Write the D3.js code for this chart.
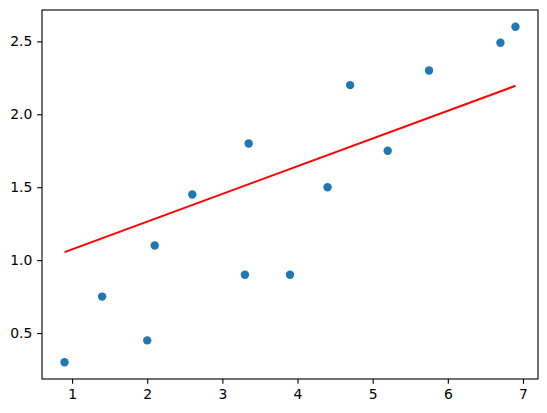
<!DOCTYPE html>
<html>
<head>
<meta charset="utf-8">
<script src="https://cdn.jsdelivr.net/npm/d3@7"></script>
<style>
  html, body { margin: 0; padding: 0; background: #fff; }
  svg { display: block; }
  .tick text { font-family: "DejaVu Sans", sans-serif; font-size: 13.9px; fill: #000; }
</style>
</head>
<body>
<svg id="chart" width="547" height="413"></svg>
<script>
const xValues = [0.9, 1.4, 2.0, 2.1, 2.6, 3.3, 3.35, 3.9, 4.4, 4.7, 5.2, 5.75, 6.7, 6.9];
const yValues = [0.3, 0.75, 0.45, 1.1, 1.45, 0.9, 1.8, 0.9, 1.5, 2.2, 1.75, 2.3, 2.49, 2.6];
const lineX = [0.9, 6.9];
const lineY = [1.055, 2.195];
const xTicks = [1, 2, 3, 4, 5, 6, 7];
const yTicks = [0.5, 1.0, 1.5, 2.0, 2.5];

const mLeft = 42, mTop = 10, mRight = 538, mBottom = 379;
const svg = d3.select("#chart");

const xMin = d3.min(xValues), xMax = d3.max(xValues);
const yMin = d3.min(yValues), yMax = d3.max(yValues);
const xPad = (xMax - xMin) * 0.05, yPad = (yMax - yMin) * 0.05;

const x = d3.scaleLinear().domain([xMin - xPad, xMax + xPad]).range([mLeft, mRight]);
const y = d3.scaleLinear().domain([yMin - yPad, yMax + yPad]).range([mBottom, mTop]);

// points
svg.append("g").selectAll("circle")
  .data(xValues.map((v, i) => [v, yValues[i]]))
  .join("circle")
  .attr("cx", d => x(d[0]))
  .attr("cy", d => y(d[1]))
  .attr("r", 4.2)
  .attr("fill", "#1f77b4");

// regression line
svg.append("path")
  .datum(lineX.map((v, i) => [v, lineY[i]]))
  .attr("d", d3.line().x(d => x(d[0])).y(d => y(d[1])))
  .attr("fill", "none")
  .attr("stroke", "red")
  .attr("stroke-width", 2.08);

// axes
const xAxis = d3.axisBottom(x).tickValues(xTicks).tickFormat(d3.format("d")).tickSize(4.86).tickPadding(4.86);
const yAxis = d3.axisLeft(y).tickValues(yTicks).tickFormat(d3.format(".1f")).tickSize(4.86).tickPadding(4.86);

const gx = svg.append("g").attr("transform", `translate(0,${mBottom})`).call(xAxis);
const gy = svg.append("g").attr("transform", `translate(${mLeft},0)`).call(yAxis);
[gx, gy].forEach(g => {
  g.select(".domain").remove();
  g.selectAll(".tick line").attr("stroke", "#000").attr("stroke-width", 1.11);
});

// frame
svg.append("rect")
  .attr("x", mLeft).attr("y", mTop)
  .attr("width", mRight - mLeft).attr("height", mBottom - mTop)
  .attr("fill", "none").attr("stroke", "#000").attr("stroke-width", 1.11);
</script>
</body>
</html>
